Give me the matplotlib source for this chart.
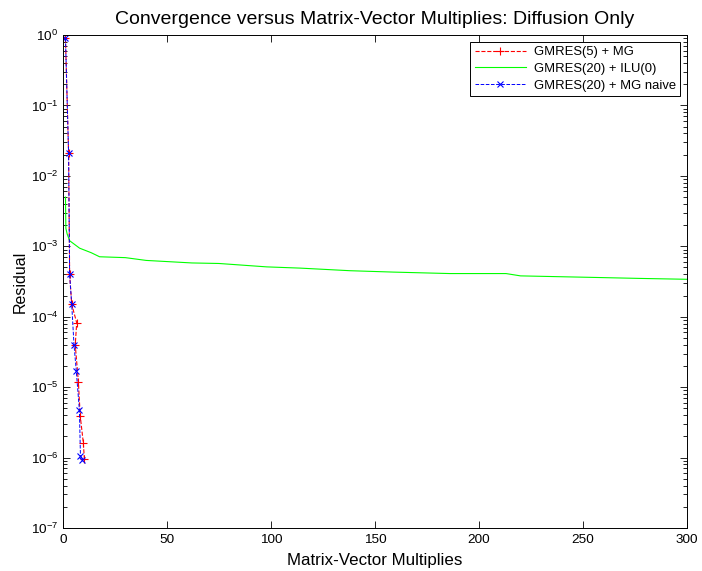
import matplotlib
matplotlib.use("Agg")
import matplotlib.pyplot as plt
from matplotlib.ticker import FixedLocator, NullFormatter, LogFormatterSciNotation

plt.rcParams['font.family'] = ['Liberation Sans', 'DejaVu Sans']
plt.rcParams['mathtext.fontset'] = 'custom'
plt.rcParams['mathtext.rm'] = 'Liberation Sans'
plt.rcParams['mathtext.it'] = 'Liberation Sans:italic'

# GMRES(5) preconditioned with multigrid
mg5_x = [1.2, 2.7, 3.2, 4.2, 6.6, 5.9, 7.4, 8.3, 9.8, 10.3]
mg5_res = [0.9, 0.021, 4.0e-4, 1.5e-4, 8.2e-5, 4.0e-5, 1.2e-5, 3.9e-6, 1.6e-6, 9.4e-7]

# GMRES(20) preconditioned with ILU(0)
ilu_x = [1.2, 1.4, 2.0, 3.2, 8.0, 13.6, 17.6, 30.0, 40.0, 62.0, 75.0, 98.0,
         114.0, 138.0, 159.0, 186.0, 213.0, 220.0, 258.0, 277.0, 300.0]
ilu_res = [5.0e-3, 1.8e-3, 1.5e-3, 1.2e-3, 9.4e-4, 8.1e-4, 7.1e-4, 6.9e-4, 6.3e-4,
           5.8e-4, 5.7e-4, 5.1e-4, 4.9e-4, 4.5e-4, 4.3e-4, 4.1e-4, 4.1e-4, 3.8e-4,
           3.6e-4, 3.5e-4, 3.4e-4]

# GMRES(20) with a naive multigrid preconditioner
naive_x = [1.2, 2.7, 3.2, 4.2, 5.3, 6.4, 7.9, 8.4, 9.3]
naive_res = [0.9, 0.021, 4.0e-4, 1.5e-4, 4.0e-5, 1.7e-5, 4.7e-6, 1.07e-6, 9.2e-7]

x_ticks = [0, 50, 100, 150, 200, 250, 300]
y_exponents = [-7, -6, -5, -4, -3, -2, -1, 0]

fig = plt.figure(figsize=(7.02, 5.71), dpi=100)
ax = fig.add_axes([0.0897, 0.0753, 0.8889, 0.8634])

ax.semilogy(mg5_x, mg5_res, color='#ff0000', ls='--', lw=0.8, marker='+',
            ms=6, mew=0.8, label='GMRES(5) + MG')
ax.semilogy(ilu_x, ilu_res, color='#00ff00', ls='-', lw=0.8,
            label='GMRES(20) + ILU(0)')
ax.semilogy(naive_x, naive_res, color='#0000ff', ls='--', lw=0.7, marker='x',
            ms=4.5, mew=0.8, label='GMRES(20) + MG naive')

ax.set_xlim(0, 300)
ax.set_ylim(1e-7, 1)
ax.xaxis.set_major_locator(FixedLocator(x_ticks))
major_y = [10.0 ** e for e in y_exponents]
minor_y = [m * 10.0 ** e for e in y_exponents[:-1] for m in range(2, 10)]
ax.yaxis.set_major_locator(FixedLocator(major_y))
ax.yaxis.set_major_formatter(LogFormatterSciNotation())
ax.yaxis.set_minor_locator(FixedLocator(minor_y))
ax.yaxis.set_minor_formatter(NullFormatter())

ax.tick_params(which='both', direction='in', top=True, right=True,
               labelsize=9.7, width=0.6)
ax.tick_params(which='major', length=5)
ax.tick_params(which='minor', length=3)
ax.tick_params(axis='x', pad=4)
for s in ax.spines.values():
    s.set_linewidth(0.7)

ax.set_title('Convergence versus Matrix-Vector Multiplies: Diffusion Only',
             fontsize=14, pad=8)
ax.set_xlabel('Matrix-Vector Multiplies', fontsize=12.2, labelpad=5)
ax.set_ylabel('Residual', fontsize=11.5, labelpad=2)

leg = ax.legend(loc='upper right', fontsize=9.4, fancybox=False,
                edgecolor='black', framealpha=1, handlelength=3.9,
                borderaxespad=0.5, labelspacing=0.35, borderpad=0.35,
                handletextpad=0.6)
leg.get_frame().set_linewidth(0.7)

fig.savefig('out.png', dpi=100)
